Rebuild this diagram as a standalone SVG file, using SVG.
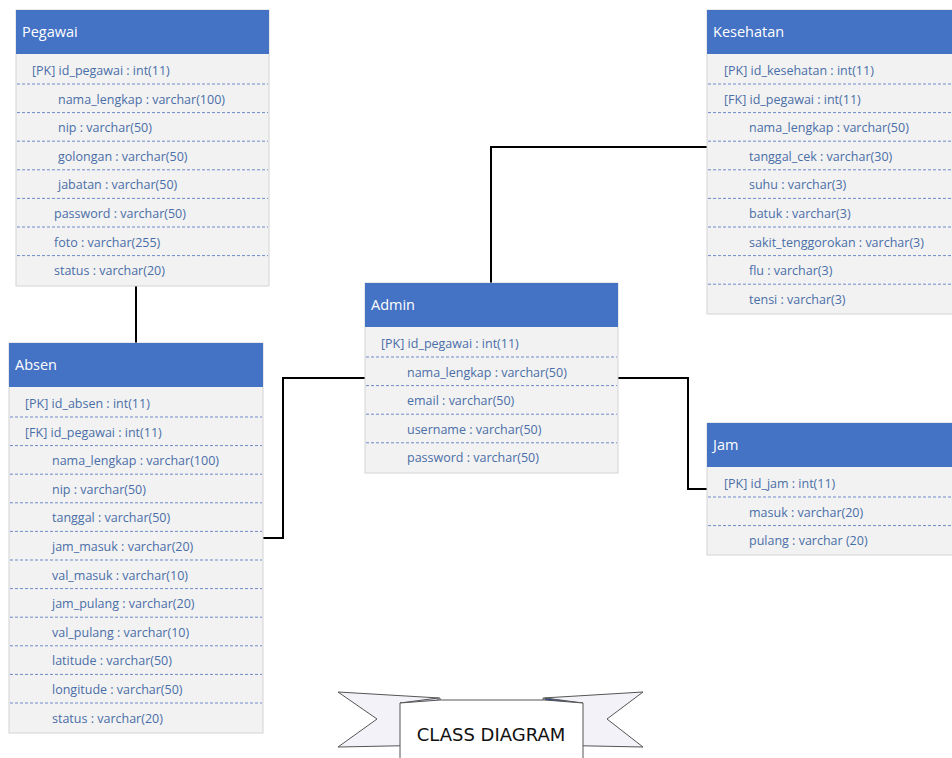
<svg xmlns="http://www.w3.org/2000/svg" width="952" height="758" viewBox="0 0 952 758">
<style>
.box{fill:#f2f2f2;stroke:#d4d4d4;stroke-width:1}
.hdr{fill:#4472c4}
.ht{font-family:"Open Sans","Liberation Sans",sans-serif;font-size:14.5px;fill:#ffffff}
.t{font-family:"Open Sans","Liberation Sans",sans-serif;font-size:12.5px;fill:#4a6ea8}
.sep{stroke:#6d8cc8;stroke-width:1;stroke-dasharray:3 2}
.conn{fill:none;stroke:#000;stroke-width:2}
</style>
<rect width="952" height="758" fill="#ffffff"/>
<g id="connectors">
<path class="conn" d="M136,286 V343"/>
<path class="conn" d="M491,283 V147 H707"/>
<path class="conn" d="M263,538 H283 V378 H365"/>
<path class="conn" d="M618,378 H688 V489 H707"/>
</g>
<g id="pegawai" transform="translate(16,10)">
<rect class="box" x="0" y="0" width="253" height="276"/>
<rect class="hdr" x="0" y="0" width="253" height="44"/>
<text class="ht" x="6" y="27">Pegawai</text>
<text class="t" x="16" y="65">[PK] id_pegawai : int(11)</text>
<line class="sep" x1="1" y1="74" x2="252" y2="74"/>
<text class="t" x="42" y="93.6">nama_lengkap : varchar(100)</text>
<line class="sep" x1="1" y1="102.6" x2="252" y2="102.6"/>
<text class="t" x="42" y="122.2">nip : varchar(50)</text>
<line class="sep" x1="1" y1="131.2" x2="252" y2="131.2"/>
<text class="t" x="42" y="150.8">golongan : varchar(50)</text>
<line class="sep" x1="1" y1="159.8" x2="252" y2="159.8"/>
<text class="t" x="42" y="179.4">jabatan : varchar(50)</text>
<line class="sep" x1="1" y1="188.4" x2="252" y2="188.4"/>
<text class="t" x="38" y="208">password : varchar(50)</text>
<line class="sep" x1="1" y1="217" x2="252" y2="217"/>
<text class="t" x="38" y="236.6">foto : varchar(255)</text>
<line class="sep" x1="1" y1="245.6" x2="252" y2="245.6"/>
<text class="t" x="38" y="265.2">status : varchar(20)</text>
</g>
<g id="absen" transform="translate(9,343)">
<rect class="box" x="0" y="0" width="254" height="390"/>
<rect class="hdr" x="0" y="0" width="254" height="44"/>
<text class="ht" x="6" y="27">Absen</text>
<text class="t" x="16" y="65">[PK] id_absen : int(11)</text>
<line class="sep" x1="1" y1="74" x2="253" y2="74"/>
<text class="t" x="16" y="93.6">[FK] id_pegawai : int(11)</text>
<line class="sep" x1="1" y1="102.6" x2="253" y2="102.6"/>
<text class="t" x="43" y="122.2">nama_lengkap : varchar(100)</text>
<line class="sep" x1="1" y1="131.2" x2="253" y2="131.2"/>
<text class="t" x="43" y="150.8">nip : varchar(50)</text>
<line class="sep" x1="1" y1="159.8" x2="253" y2="159.8"/>
<text class="t" x="43" y="179.4">tanggal : varchar(50)</text>
<line class="sep" x1="1" y1="188.4" x2="253" y2="188.4"/>
<text class="t" x="43" y="208">jam_masuk : varchar(20)</text>
<line class="sep" x1="1" y1="217" x2="253" y2="217"/>
<text class="t" x="43" y="236.6">val_masuk : varchar(10)</text>
<line class="sep" x1="1" y1="245.6" x2="253" y2="245.6"/>
<text class="t" x="43" y="265.2">jam_pulang : varchar(20)</text>
<line class="sep" x1="1" y1="274.2" x2="253" y2="274.2"/>
<text class="t" x="43" y="293.8">val_pulang : varchar(10)</text>
<line class="sep" x1="1" y1="302.8" x2="253" y2="302.8"/>
<text class="t" x="43" y="322.4">latitude : varchar(50)</text>
<line class="sep" x1="1" y1="331.4" x2="253" y2="331.4"/>
<text class="t" x="43" y="351">longitude : varchar(50)</text>
<line class="sep" x1="1" y1="360" x2="253" y2="360"/>
<text class="t" x="43" y="379.6">status : varchar(20)</text>
</g>
<g id="admin" transform="translate(365,283)">
<rect class="box" x="0" y="0" width="253" height="190"/>
<rect class="hdr" x="0" y="0" width="253" height="44"/>
<text class="ht" x="6" y="27">Admin</text>
<text class="t" x="16" y="65">[PK] id_pegawai : int(11)</text>
<line class="sep" x1="1" y1="74" x2="252" y2="74"/>
<text class="t" x="42" y="93.6">nama_lengkap : varchar(50)</text>
<line class="sep" x1="1" y1="102.6" x2="252" y2="102.6"/>
<text class="t" x="42" y="122.2">email : varchar(50)</text>
<line class="sep" x1="1" y1="131.2" x2="252" y2="131.2"/>
<text class="t" x="42" y="150.8">username : varchar(50)</text>
<line class="sep" x1="1" y1="159.8" x2="252" y2="159.8"/>
<text class="t" x="42" y="179.4">password : varchar(50)</text>
</g>
<g id="kesehatan" transform="translate(707,10)">
<rect class="box" x="0" y="0" width="253" height="304"/>
<rect class="hdr" x="0" y="0" width="253" height="44"/>
<text class="ht" x="6" y="27">Kesehatan</text>
<text class="t" x="17" y="65">[PK] id_kesehatan : int(11)</text>
<line class="sep" x1="1" y1="74" x2="252" y2="74"/>
<text class="t" x="17" y="93.6">[FK] id_pegawai : int(11)</text>
<line class="sep" x1="1" y1="102.6" x2="252" y2="102.6"/>
<text class="t" x="42" y="122.2">nama_lengkap : varchar(50)</text>
<line class="sep" x1="1" y1="131.2" x2="252" y2="131.2"/>
<text class="t" x="42" y="150.8">tanggal_cek : varchar(30)</text>
<line class="sep" x1="1" y1="159.8" x2="252" y2="159.8"/>
<text class="t" x="42" y="179.4">suhu : varchar(3)</text>
<line class="sep" x1="1" y1="188.4" x2="252" y2="188.4"/>
<text class="t" x="42" y="208">batuk : varchar(3)</text>
<line class="sep" x1="1" y1="217" x2="252" y2="217"/>
<text class="t" x="42" y="236.6">sakit_tenggorokan : varchar(3)</text>
<line class="sep" x1="1" y1="245.6" x2="252" y2="245.6"/>
<text class="t" x="42" y="265.2">flu : varchar(3)</text>
<line class="sep" x1="1" y1="274.2" x2="252" y2="274.2"/>
<text class="t" x="42" y="293.8">tensi : varchar(3)</text>
</g>
<g id="jam" transform="translate(707,423)">
<rect class="box" x="0" y="0" width="253" height="132"/>
<rect class="hdr" x="0" y="0" width="253" height="44"/>
<text class="ht" x="6" y="27">Jam</text>
<text class="t" x="17" y="65">[PK] id_jam : int(11)</text>
<line class="sep" x1="1" y1="74" x2="252" y2="74"/>
<text class="t" x="42" y="93.6">masuk : varchar(20)</text>
<line class="sep" x1="1" y1="102.6" x2="252" y2="102.6"/>
<text class="t" x="42" y="122.2">pulang : varchar (20)</text>
</g>
<g id="banner" stroke="#555" stroke-width="1" stroke-linejoin="round">
<polygon points="338,692 440,698 440,745 338,747 377,719" fill="#f2f2f8"/>
<polygon points="643,692 543,698 543,745 643,747 607,719" fill="#f2f2f8"/>
<polygon points="400,703 438,698 438,706" fill="#d6d6ee"/>
<polygon points="583,703 545,698 545,706" fill="#2e4e9c"/>
<polygon points="400,703 440,700 545,700 583,703 583,760 400,760" fill="#ffffff"/>
<text x="491" y="741" text-anchor="middle" font-family="DejaVu Sans, sans-serif" font-size="18" fill="#111" stroke="none">CLASS DIAGRAM</text>
</g>
</svg>
